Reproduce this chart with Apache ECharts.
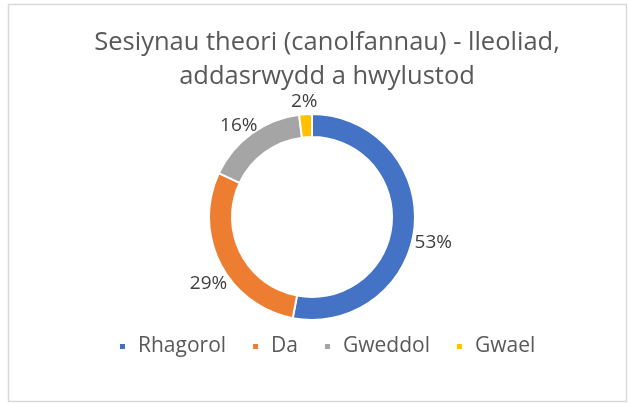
<!DOCTYPE html>
<html>
<head>
<meta charset="utf-8">
<script src="https://cdn.jsdelivr.net/npm/echarts@6/dist/echarts.min.js"></script>
<style>
  html, body { margin: 0; padding: 0; background: #fff; }
  #chart { width: 628px; height: 403px; }
</style>
</head>
<body>
<div id="chart"></div>
<script>
var titleText = 'Sesiynau theori (canolfannau) - lleoliad,\naddasrwydd a hwylustod';
var categories = ['Rhagorol', 'Da', 'Gweddol', 'Gwael'];
var shares = [53, 29, 16, 2];
var colors = ['#4472C4', '#ED7D31', '#A5A5A5', '#FFC000'];

// Excel drops the data labels a little off the mid angle, nudge them the same way
var labelNudge = [[0, 16], [7, 20], [6, -8], [12, -13]];

var font = "'Open Sans', sans-serif";

var pieData = categories.map(function (name, i) {
    return { name: name, value: shares[i], itemStyle: { color: colors[i] } };
});

var myChart = echarts.init(document.getElementById('chart'));
myChart.setOption({
    animation: false,
    title: {
        text: titleText,
        left: 322,
        textAlign: 'center',
        top: 21,
        textStyle: {
            fontFamily: font,
            fontSize: 25.5,
            fontWeight: 'normal',
            color: '#595959',
            lineHeight: 34
        }
    },
    legend: {
        top: 331,
        left: 113,
        icon: 'rect',
        itemWidth: 7,
        itemHeight: 7,
        itemGap: 25,
        textStyle: { fontFamily: font, fontSize: 21, color: '#595959', padding: [0, 0, 0, 7] },
        data: categories
    },
    graphic: [{
        type: 'rect',
        shape: { x: 8.5, y: 4.5, width: 618, height: 397 },
        style: { fill: 'none', stroke: '#D9D9D9', lineWidth: 1.5 },
        silent: true
    }],
    series: [{
        type: 'pie',
        center: [312, 217],
        radius: [80, 103],
        startAngle: 90,
        clockwise: true,
        avoidLabelOverlap: false,
        itemStyle: { borderColor: '#fff', borderWidth: 2 },
        label: {
            position: 'outside',
            formatter: '{d}%',
            fontFamily: font,
            fontSize: 19,
            color: '#404040',
            distanceToLabelLine: 0
        },
        labelLine: { show: false, length: 0, length2: 0 },
        labelLayout: function (params) {
            var n = labelNudge[params.dataIndex];
            return { dx: n[0], dy: n[1] };
        },
        data: pieData
    }]
});
</script>
</body>
</html>
